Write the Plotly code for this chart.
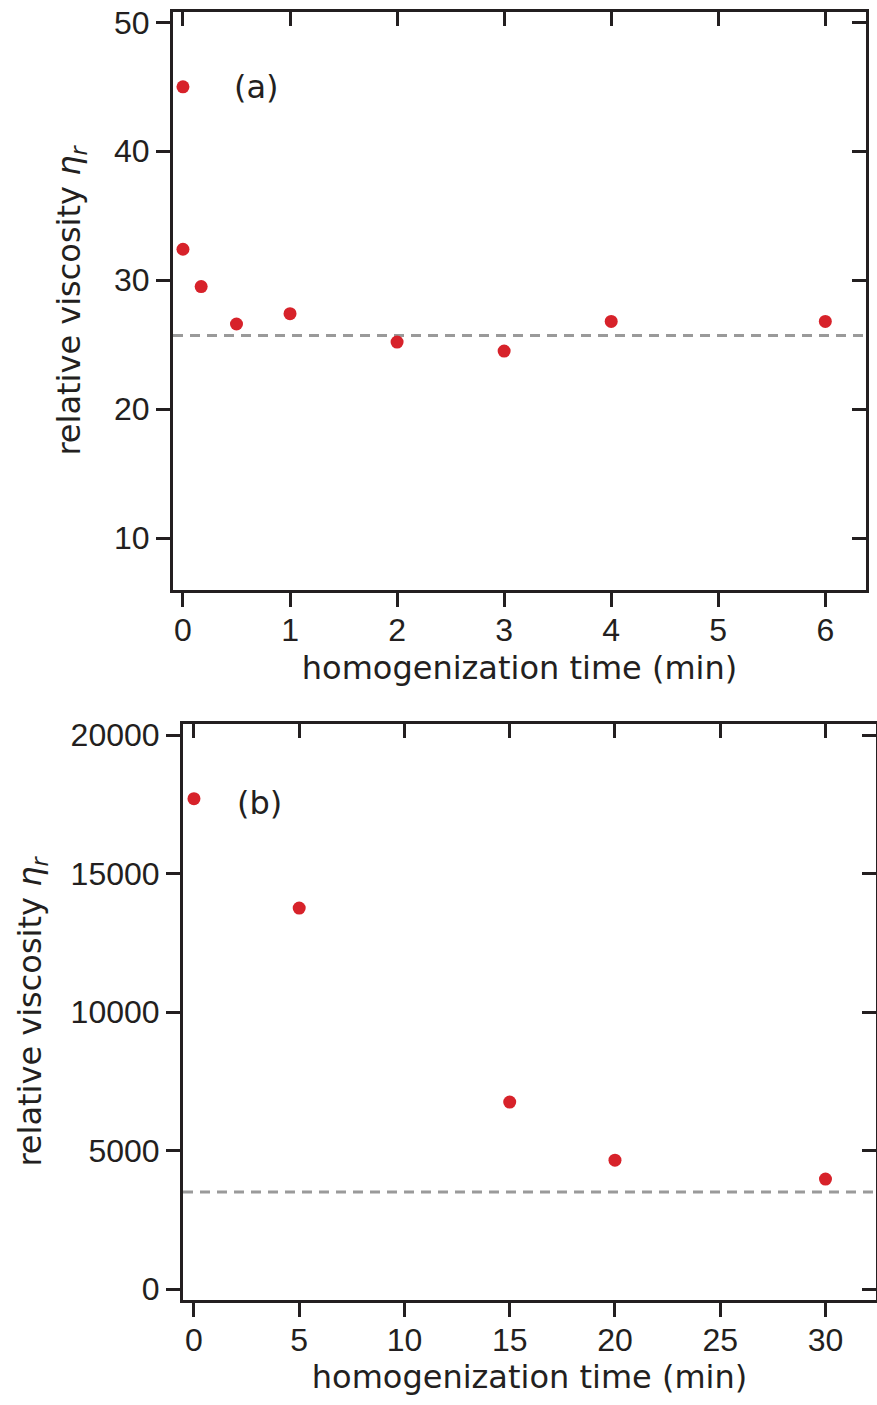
import plotly.graph_objects as go

# ---- data ----
time_a = [0, 0, 0.17, 0.5, 1, 2, 3, 4, 6]
eta_a = [45.0, 32.4, 29.5, 26.6, 27.4, 25.2, 24.5, 26.8, 26.8]
ref_a = 25.7

time_b = [0, 5, 15, 20, 30]
eta_b = [17700, 13750, 6750, 4650, 3970]
ref_b = 3500

xticks_a = [0, 1, 2, 3, 4, 5, 6]
yticks_a = [10, 20, 30, 40, 50]
xticks_b = [0, 5, 10, 15, 20, 25, 30]
yticks_b = [0, 5000, 10000, 15000, 20000]

W, H = 877, 1405
INK = "#231f20"
RED = "#d7222a"
TICKFONT = dict(family="Liberation Sans, Arial, sans-serif", size=32, color=INK)
TITLEFONT = dict(family="DejaVu Sans, sans-serif", size=32, color=INK)

xr_a = [-0.093, 6.38]
yr_a = [5.97, 50.8]
xr_b = [-0.52, 32.4]
yr_b = [-397, 20397]

dom_x_a = [173 / W, 866 / W]
dom_y_a = [1 - 590 / H, 1 - 12 / H]
dom_x_b = [183 / W, 876 / W]
dom_y_b = [1 - 1300 / H, 1 - 724 / H]

fig = go.Figure()
marker = dict(color=RED, size=13, line=dict(width=0))
fig.add_trace(go.Scatter(x=time_a, y=eta_a, mode="markers", marker=marker,
                         xaxis="x", yaxis="y", showlegend=False))
fig.add_trace(go.Scatter(x=time_b, y=eta_b, mode="markers", marker=marker,
                         xaxis="x2", yaxis="y2", showlegend=False))
# empty helper traces so the mirrored (inside-tick) axes get drawn
for xa, ya in [("x3", "y"), ("x", "y3"), ("x4", "y2"), ("x2", "y4")]:
    fig.add_trace(go.Scatter(x=[None], y=[None], mode="markers", xaxis=xa, yaxis=ya,
                             showlegend=False, hoverinfo="skip"))

dash = dict(color="#9a9a9a", width=3, dash="10px,7px")
fig.add_shape(type="line", xref="x domain", yref="y", x0=0, x1=1, y0=ref_a, y1=ref_a,
              line=dash, layer="below")
fig.add_shape(type="line", xref="x2 domain", yref="y2", x0=0, x1=1, y0=ref_b, y1=ref_b,
              line=dash, layer="below")

base = dict(showgrid=False, zeroline=False, showline=True, linecolor=INK, linewidth=3,
            mirror=True, ticks="outside", ticklen=14, tickwidth=3, tickcolor=INK,
            tickfont=TICKFONT, automargin=False, tickformat="d")
inside = dict(showgrid=False, zeroline=False, showline=False, ticks="inside",
              ticklen=14, tickwidth=3, tickcolor=INK, showticklabels=False,
              automargin=False)

ytitle = "relative viscosity <i>η</i><sub><i>r</i></sub>"
xtitle = "homogenization time (min)"

fig.update_layout(
    width=W, height=H,
    margin=dict(l=0, r=0, t=0, b=0),
    plot_bgcolor="white", paper_bgcolor="white",
    xaxis=dict(base, domain=dom_x_a, anchor="y", range=xr_a, tickvals=xticks_a,
               ticklabelstandoff=-4,
               title=dict(text=xtitle, font=TITLEFONT, standoff=10)),
    yaxis=dict(base, domain=dom_y_a, anchor="x", range=yr_a, tickvals=yticks_a,
               title=dict(text=ytitle, font=TITLEFONT, standoff=24)),
    xaxis2=dict(base, domain=dom_x_b, anchor="y2", range=xr_b, tickvals=xticks_b,
                ticklabelstandoff=-4,
                title=dict(text=xtitle, font=TITLEFONT, standoff=8)),
    yaxis2=dict(base, domain=dom_y_b, anchor="x2", range=yr_b, tickvals=yticks_b,
                title=dict(text=ytitle, font=TITLEFONT, standoff=20)),
    xaxis3=dict(inside, overlaying="x", side="top", anchor="y", range=xr_a, tickvals=xticks_a),
    yaxis3=dict(inside, overlaying="y", side="right", anchor="x", range=yr_a, tickvals=yticks_a),
    xaxis4=dict(inside, overlaying="x2", side="top", anchor="y2", range=xr_b, tickvals=xticks_b),
    yaxis4=dict(inside, overlaying="y2", side="right", anchor="x2", range=yr_b, tickvals=yticks_b),
    annotations=[
        dict(text="(a)", x=0.46, y=45.0, xref="x", yref="y", showarrow=False,
             xanchor="left", yanchor="middle", font=TITLEFONT),
        dict(text="(b)", x=1.95, y=17550, xref="x2", yref="y2", showarrow=False,
             xanchor="left", yanchor="middle", font=TITLEFONT),
    ],
)

fig.write_html("out.html")
